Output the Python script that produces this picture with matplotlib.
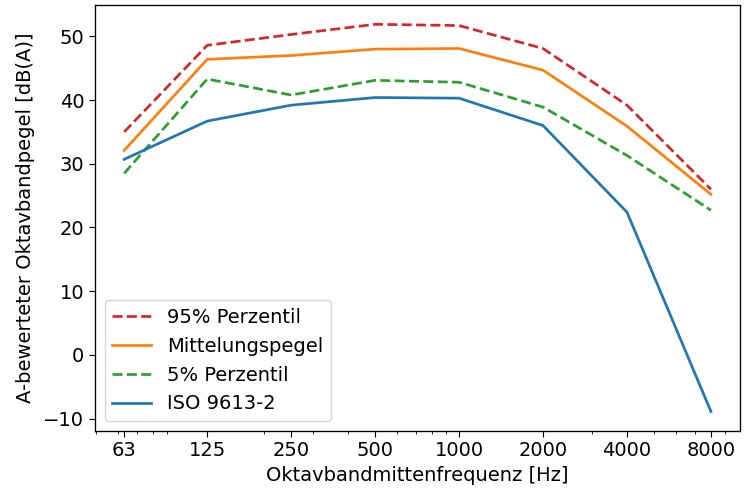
import matplotlib
matplotlib.use('Agg')
import matplotlib.pyplot as plt
from matplotlib.ticker import NullFormatter

# Oktavbandmittenfrequenzen und Pegel
freqs = [63, 125, 250, 500, 1000, 2000, 4000, 8000]
freq_labels = ['63', '125', '250', '500', '1000', '2000', '4000', '8000']

p95 = [35.0, 48.6, 50.3, 51.9, 51.7, 48.1, 39.2, 26.0]
mittel = [32.1, 46.4, 47.0, 48.0, 48.1, 44.7, 35.9, 25.2]
p05 = [28.5, 43.3, 40.8, 43.1, 42.8, 38.9, 31.3, 22.7]
iso = [30.7, 36.7, 39.2, 40.4, 40.3, 36.0, 22.4, -8.9]

plt.rcParams['font.size'] = 14
plt.rcParams['xtick.major.size'] = 4.1
plt.rcParams['ytick.major.size'] = 4.1
plt.rcParams['xtick.minor.size'] = 2.3
plt.rcParams['axes.linewidth'] = 0.95

fig, ax = plt.subplots(figsize=(7.47, 4.93), dpi=100)

lw = 1.95
ax.plot(freqs, p95, '--', color='tab:red', linewidth=lw, label='95% Perzentil')
ax.plot(freqs, mittel, '-', color='tab:orange', linewidth=lw, label='Mittelungspegel')
ax.plot(freqs, p05, '--', color='tab:green', linewidth=lw, label='5% Perzentil')
ax.plot(freqs, iso, '-', color='tab:blue', linewidth=lw, label='ISO 9613-2')

ax.set_xscale('log')
ax.set_xticks(freqs)
ax.set_xticklabels(freq_labels)
ax.xaxis.set_minor_formatter(NullFormatter())

ax.set_xlabel('Oktavbandmittenfrequenz [Hz]')
ax.set_ylabel('A-bewerteter Oktavbandpegel [dB(A)]', labelpad=6)
ax.legend(loc='lower left')

fig.subplots_adjust(left=0.127, right=0.991, top=0.99, bottom=0.126)
fig.savefig('out.png', dpi=100)
